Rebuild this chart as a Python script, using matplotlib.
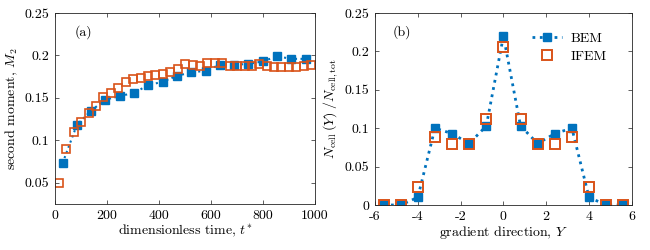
import matplotlib
matplotlib.use('Agg')
import matplotlib.pyplot as plt
from matplotlib.ticker import FuncFormatter

plt.rcParams['font.family'] = ['cmr10', 'DejaVu Serif']
plt.rcParams['mathtext.fontset'] = 'cm'
plt.rcParams['axes.formatter.use_mathtext'] = True
plt.rcParams['font.size'] = 10

blue = '#0072BD'
red = '#D95319'

# (a) 二阶矩随时间
t_bem = [29, 84, 139, 194, 249, 304, 359, 414, 469, 524, 579, 634, 689, 744, 799, 854, 909, 964]
m2_bem = [0.073, 0.118, 0.135, 0.148, 0.152, 0.156, 0.165, 0.169, 0.176, 0.180, 0.182,
          0.189, 0.189, 0.190, 0.193, 0.199, 0.196, 0.196]
t_ifem = [15, 44, 72, 101, 129, 158, 186, 215, 244, 272, 301, 329, 358, 386, 415, 443,
          472, 500, 529, 558, 586, 615, 643, 672, 700, 729, 757, 786, 814, 843, 871,
          900, 928, 957, 985]
m2_ifem = [0.050, 0.090, 0.110, 0.122, 0.132, 0.141, 0.151, 0.156, 0.162, 0.169, 0.172,
           0.174, 0.176, 0.177, 0.178, 0.180, 0.184, 0.190, 0.189, 0.187, 0.191, 0.191,
           0.191, 0.188, 0.188, 0.188, 0.187, 0.190, 0.187, 0.186, 0.186, 0.186, 0.186,
           0.188, 0.189]

# (b) 沿梯度方向的细胞分布
y_pos = [-5.6, -4.8, -4.0, -3.2, -2.4, -1.6, -0.8, 0.0, 0.8, 1.6, 2.4, 3.2, 4.0, 4.8, 5.6]
n_bem = [0.0, 0.0, 0.010, 0.100, 0.093, 0.080, 0.103, 0.220, 0.103, 0.080, 0.093, 0.100,
         0.010, 0.0, 0.0]
n_ifem = [0.0, 0.0, 0.024, 0.089, 0.080, 0.079, 0.112, 0.206, 0.112, 0.079, 0.080, 0.089,
          0.024, 0.0, 0.0]

fmt = FuncFormatter(lambda v, p: ('%g' % v) if abs(v) > 1e-12 else '0')

fig = plt.figure(figsize=(6.5, 2.5), dpi=100)
ax1 = fig.add_axes([0.0846, 0.184, 0.40, 0.764])
ax2 = fig.add_axes([0.577, 0.180, 0.395, 0.768])

ax1.plot(t_bem, m2_bem, ls=':', lw=1.5, color=blue, marker='s', ms=5.5,
         mfc=blue, mec=blue, label='BEM')
ax1.plot(t_ifem, m2_ifem, ls='none', marker='s', ms=6, mfc='none', mec=red,
         mew=1.2, label='IFEM')
ax1.set_xlim(0, 1000)
ax1.set_ylim(0.025, 0.25)
ax1.set_xticks([0, 200, 400, 600, 800, 1000])
ax1.set_yticks([0.05, 0.1, 0.15, 0.2, 0.25])
ax1.set_xlabel('dimensionless time, $t^{*}$', labelpad=1)
ax1.set_ylabel('second moment, $M_2$', labelpad=3)
ax1.text(0.11, 0.9, '(a)', transform=ax1.transAxes, ha='center', va='center')

ax2.plot(y_pos, n_bem, ls=':', lw=2, color=blue, marker='s', ms=6,
         mfc=blue, mec=blue, label='BEM')
ax2.plot(y_pos, n_ifem, ls='none', marker='s', ms=6.5, mfc='none', mec=red,
         mew=1.4, label='IFEM')
ax2.set_xlim(-6, 6)
ax2.set_ylim(0, 0.25)
ax2.set_xticks([-6, -4, -2, 0, 2, 4, 6])
ax2.set_yticks([0, 0.05, 0.1, 0.15, 0.2, 0.25])
ax2.set_xlabel('gradient direction, $Y$', labelpad=1)
ax2.set_ylabel(r'$N_{\rm cell}\,(Y)\;/N_{\rm cell,tot}$', labelpad=3)
ax2.text(0.105, 0.9, '(b)', transform=ax2.transAxes, ha='center', va='center')
ax2.legend(loc='upper right', bbox_to_anchor=(0.94, 0.95), frameon=False,
           handlelength=2.2, handletextpad=0.6, labelspacing=0.35,
           borderaxespad=0.3, fontsize=10)

for ax in (ax1, ax2):
    ax.xaxis.set_major_formatter(fmt)
    ax.yaxis.set_major_formatter(fmt)
    ax.tick_params(direction='in', top=True, right=True, length=3, width=0.6,
                   color='#444444', labelsize=10, pad=4)
    for s in ax.spines.values():
        s.set_linewidth(0.6)
        s.set_color('#262626')

fig.savefig('out.png', dpi=100)
